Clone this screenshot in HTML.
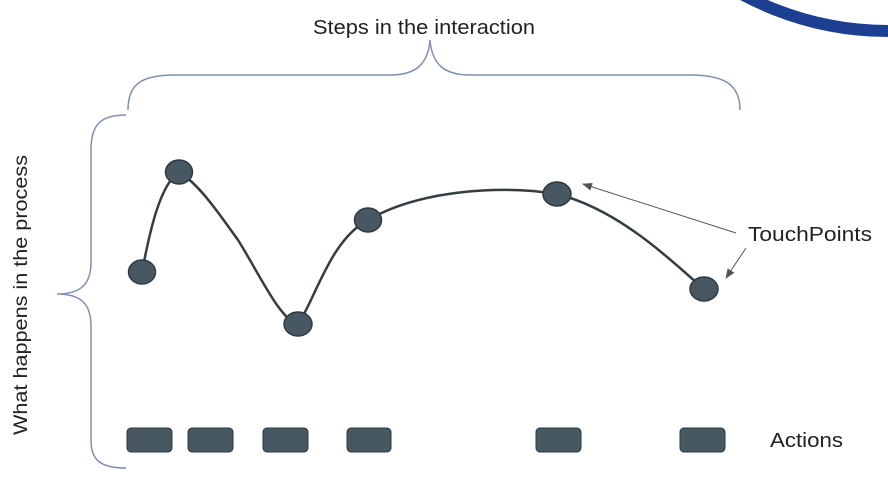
<!DOCTYPE html>
<html><head><meta charset="utf-8"><style>
html,body{margin:0;padding:0;background:#fff;width:888px;height:484px;overflow:hidden}
svg{display:block}
text{font-family:"Liberation Sans",sans-serif;fill:#222}
</style></head><body>
<svg width="888" height="484" viewBox="0 0 888 484" xmlns="http://www.w3.org/2000/svg">
<defs><marker id="ah" markerWidth="10" markerHeight="8" refX="9" refY="4" orient="auto" markerUnits="userSpaceOnUse"><path d="M0,0 L10,4 L0,8 Z" fill="#555"/></marker></defs>
<circle cx="888" cy="-277" r="308" fill="none" stroke="#1d3f91" stroke-width="12"/>
<text x="313" y="34" font-size="20" textLength="222" lengthAdjust="spacingAndGlyphs">Steps in the interaction</text>
<path d="M128,110 C128,85 140,75 175,75 L390,75 C415,75 428,65 430,40 C432,65 445,75 470,75 L690,75 C725,75 740,85 740,110" fill="none" stroke="#7f8fb0" stroke-width="1.5"/>
<path d="M126,115 C100,115 91,125 91,150 L91,262 C91,285 80,294 57,294 C80,294 91,303 91,326 L91,440 C91,460 100,468 126,468" fill="none" stroke="#7f8fb0" stroke-width="1.5"/>
<text transform="translate(27,435) rotate(-90)" font-size="19" textLength="280" lengthAdjust="spacingAndGlyphs">What happens in the process</text>
<path d="M142,272 C150,230 160,185 179,172 C200,185 220,215 238,240 C260,275 280,320 298,324 C315,300 330,240 368,220 C420,190 500,185 557,194 C620,210 670,260 704,289" fill="none" stroke="#333d42" stroke-width="2.5"/>
<g fill="#485863" stroke="#2f3a40" stroke-width="1.5">
<ellipse cx="142" cy="272" rx="13.5" ry="12"/>
<ellipse cx="179" cy="172" rx="13.5" ry="12"/>
<ellipse cx="298" cy="324" rx="14" ry="12"/>
<ellipse cx="368" cy="220" rx="13.5" ry="12"/>
<ellipse cx="557" cy="194" rx="14" ry="12"/>
<ellipse cx="704" cy="289" rx="14" ry="12"/>
</g>
<line x1="736" y1="233" x2="583" y2="184" stroke="#555" stroke-width="1" marker-end="url(#ah)"/>
<line x1="746" y1="248" x2="726" y2="278" stroke="#555" stroke-width="1" marker-end="url(#ah)"/>
<text x="748" y="241" font-size="20" textLength="124" lengthAdjust="spacingAndGlyphs">TouchPoints</text>
<g fill="#485863" stroke="#2f3a40" stroke-width="1">
<rect x="127" y="428" width="45" height="24" rx="4"/>
<rect x="188" y="428" width="45" height="24" rx="4"/>
<rect x="263" y="428" width="45" height="24" rx="4"/>
<rect x="347" y="428" width="44" height="24" rx="4"/>
<rect x="536" y="428" width="45" height="24" rx="4"/>
<rect x="680" y="428" width="45" height="24" rx="4"/>
</g>
<text x="770" y="447" font-size="20" textLength="73" lengthAdjust="spacingAndGlyphs">Actions</text>
</svg>
</body></html>
